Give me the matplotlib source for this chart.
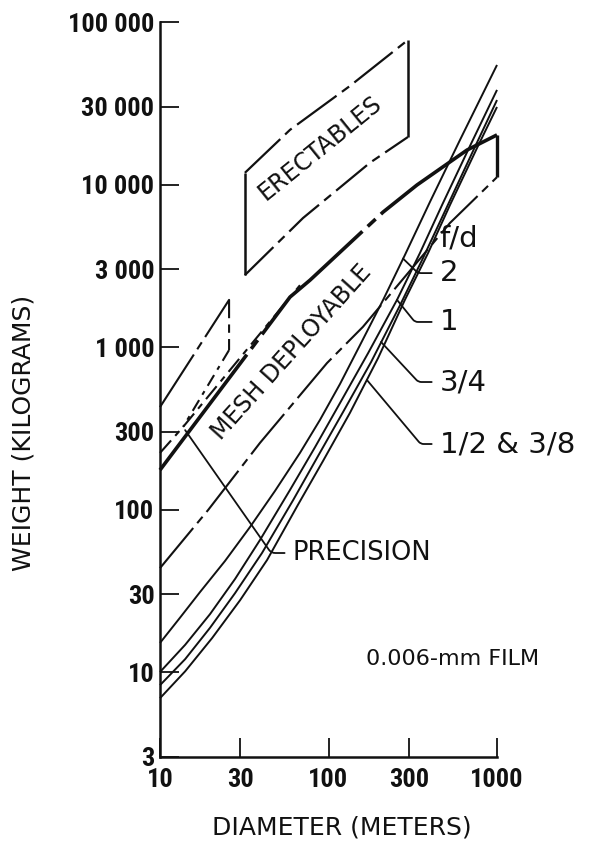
import matplotlib
matplotlib.use("Agg")
import matplotlib.pyplot as plt
from matplotlib import font_manager

# axis ticks
x_ticks = [10, 30, 100, 300, 1000]
x_tick_labels = ["10", "30", "100", "300", "1000"]
y_ticks = [3, 10, 30, 100, 300, 1000, 3000, 10000, 30000, 100000]
y_tick_labels = ["3", "10", "30", "100", "300", "1 000", "3 000",
                 "10 000", "30 000", "100 000"]

# 0.006-mm film, one curve per f/d  (diameter m, weight kg)
fd2_d = [10, 13.1, 17.3, 24.3, 34.2, 48.1, 67.7, 89, 117, 154, 211, 284, 400, 603, 1000]
fd2_w = [15.1, 21.5, 31.1, 48.2, 78, 130, 223, 356, 592, 1030, 1950, 3680, 7810, 18800, 54400]
fd1_d = [10, 14.1, 19.8, 27.9, 39.2, 59.1, 83.2, 117, 172, 255, 349, 472, 692, 1000]
fd1_w = [10.0, 14.7, 22.7, 37.4, 64.9, 132, 242, 452, 919, 1950, 3790, 7480, 17300, 38200]
fd34_d = [10, 14.1, 19.8, 27.9, 40.3, 61.6, 86.6, 122, 179, 266, 364, 498, 711, 1000]
fd34_w = [8.3, 12.0, 18.7, 30.6, 54, 114, 213, 398, 809, 1810, 3530, 7070, 15600, 33100]
fd12_d = [10, 14.1, 20.4, 29.9, 43.2, 65.9, 92.8, 134, 197, 284, 390, 526, 772, 1000]
fd12_w = [6.9, 10.1, 16.2, 27.7, 48.9, 107, 199, 393, 856, 1950, 3790, 7480, 17300, 30000]

# erectables band
erect_top_d = [31.9, 59.1, 134, 296]
erect_top_w = [11800, 21700, 40400, 77500]
erect_bot_d = [31.9, 70.6, 176, 296]
erect_bot_w = [2770, 6220, 13600, 19600]

# mesh deployable band
mesh_top_d = [10, 39.2, 59.1, 77.7, 211, 335, 664, 1000]
mesh_top_w = [175, 1150, 2030, 2580, 6770, 9930, 16300, 20200]
mesh_mid_d = [10, 13.7, 67.7]
mesh_mid_w = [223, 322, 2400]
mesh_bot_d = [10, 19.3, 39.2, 98, 160, 526, 1000]
mesh_bot_w = [43.6, 99.3, 257, 797, 1330, 5800, 11100]

# precision box
prec_top_d = [10, 25.7, 25.7]
prec_top_w = [427, 1950, 958]
prec_low_d = [25.7, 13.7]
prec_low_w = [958, 322]

names = {f.name for f in font_manager.fontManager.ttflist}
narrow = None
for cand in ["Liberation Sans Narrow", "Roboto Condensed", "DejaVu Sans Condensed"]:
    if cand in names:
        narrow = cand
        break
plt.rcParams["font.family"] = "DejaVu Sans"
tick_font = narrow if narrow else "DejaVu Sans"
tick_size = 19 if narrow else 14

ink = "#111111"
fig = plt.figure(figsize=(5.91, 8.41), dpi=100)
ax = fig.add_axes([160 / 591, 1 - 757 / 841, 337 / 591, 735 / 841])
ax.set_xscale("log")
ax.set_yscale("log")
ax.set_xlim(10, 1000)
ax.set_ylim(3, 100000)

for s in ["top", "right"]:
    ax.spines[s].set_visible(False)
for s in ["left", "bottom"]:
    ax.spines[s].set_linewidth(1.8)
    ax.spines[s].set_color(ink)

ax.minorticks_off()
ax.set_xticks(x_ticks)
ax.set_xticklabels(x_tick_labels, family=tick_font, fontsize=tick_size,
                   fontweight="bold")
ax.set_yticks(y_ticks)
ax.set_yticklabels(y_tick_labels, family=tick_font, fontsize=tick_size,
                   fontweight="bold")
ax.tick_params(direction="in", length=13.5, width=1.3, color=ink,
               labelcolor=ink)
ax.tick_params(axis="y", pad=4)
ax.tick_params(axis="x", pad=8)

kw = dict(color=ink, clip_on=False, solid_capstyle="butt")

# film curves
for d, w in [(fd2_d, fd2_w), (fd1_d, fd1_w), (fd34_d, fd34_w), (fd12_d, fd12_w)]:
    ax.plot(d, w, lw=1.4, **kw)

# erectables
ax.plot(erect_top_d, erect_top_w, lw=1.6, ls=(0, (22, 3, 4, 3)), **kw)
ax.plot(erect_bot_d, erect_bot_w, lw=1.6, ls=(0, (18, 3, 4, 3)), **kw)
ax.plot([erect_top_d[0], erect_bot_d[0]], [erect_top_w[0], erect_bot_w[0]], lw=1.8, **kw)
ax.plot([erect_top_d[-1], erect_bot_d[-1]], [erect_top_w[-1], erect_bot_w[-1]], lw=1.8, **kw)

# mesh deployable
ax.plot(mesh_top_d, mesh_top_w, lw=2.6, ls=(0, (40, 2, 3, 2)), **kw)
ax.plot(mesh_mid_d, mesh_mid_w, lw=1.5, ls=(0, (8, 3, 3, 3)), **kw)
ax.plot(mesh_bot_d, mesh_bot_w, lw=1.5, ls=(0, (25, 3, 4, 3)), **kw)
ax.plot([mesh_top_d[-1], mesh_bot_d[-1]], [mesh_top_w[-1], mesh_bot_w[-1]], lw=2.4, **kw)

# precision
ax.plot(prec_top_d, prec_top_w, lw=1.5, ls=(0, (30, 3, 4, 3)), **kw)
ax.plot(prec_low_d, prec_low_w, lw=1.5, ls=(0, (6, 3, 2, 3)), **kw)

# band labels
ax.text(89, 16750, "ERECTABLES", rotation=39, ha="center", va="center",
        fontsize=17, color=ink)
ax.text(60.7, 930, "MESH DEPLOYABLE", rotation=48, ha="center", va="center",
        fontsize=17, color=ink)

lead = dict(arrowstyle="-", color=ink, lw=1.3, shrinkA=4, shrinkB=0)
ax.annotate("PRECISION", xy=(14.1, 308), xytext=(61.5, 54), ha="left",
            va="center", fontsize=18.5, color=ink,
            arrowprops=dict(connectionstyle="angle,angleA=0,angleB=-55,rad=4", **lead))

ax.text(590, 4670, "f/d", ha="center", va="center", fontsize=21, color=ink)
ax.annotate("2", xy=(277, 3500), xytext=(459, 2850), ha="left", va="center",
            fontsize=21, color=ink,
            arrowprops=dict(connectionstyle="angle,angleA=0,angleB=-44,rad=3", **lead))
ax.annotate("1", xy=(255, 1950), xytext=(459, 1426), ha="left", va="center",
            fontsize=21, color=ink,
            arrowprops=dict(connectionstyle="angle,angleA=0,angleB=-51,rad=3", **lead))
ax.annotate("3/4", xy=(205, 1074), xytext=(459, 609), ha="left", va="center",
            fontsize=21, color=ink,
            arrowprops=dict(connectionstyle="angle,angleA=0,angleB=-47,rad=3", **lead))
ax.annotate("1/2 & 3/8", xy=(169, 627), xytext=(459, 253), ha="left", va="center",
            fontsize=21, color=ink,
            arrowprops=dict(connectionstyle="angle,angleA=0,angleB=-50,rad=3", **lead))

ax.text(548, 12.05, "0.006-mm FILM", ha="center", va="center", fontsize=16,
        color=ink)

fig.text(342 / 591, 1 - 828 / 841, "DIAMETER (METERS)", ha="center", va="center",
         fontsize=18, color=ink)
fig.text(24 / 591, 1 - 433 / 841, "WEIGHT (KILOGRAMS)", rotation=90, ha="center",
         va="center", fontsize=18, color=ink)

fig.savefig("out.png", dpi=100)
